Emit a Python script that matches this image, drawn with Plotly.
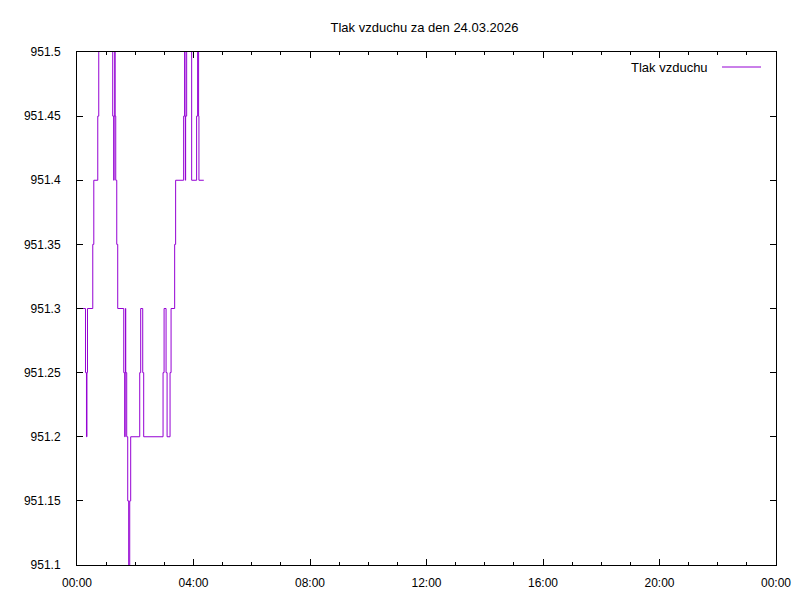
import plotly.graph_objects as go
import pandas as pd

# Minutes after midnight of each reading, and pressure (hPa)
minutes = [0.0, 17.5, 19.5, 20.5, 21.6, 32.5, 34.6, 42.8, 44.8, 73.6, 75.7, 76.3,
           77.8, 78.4, 79.8, 81.9, 83.9, 96.3, 98.3, 99.2, 99.8, 100.4, 102.4,
           104.5, 106.5, 108.6, 110.6, 129.2, 131.2, 135.4, 137.4, 177.3, 179.4,
           183.5, 185.6, 191.7, 193.8, 201.2, 203.2, 219.7, 221.8, 222.4, 223.2,
           223.8, 225.9, 236.2, 246.4, 248.5, 250.5, 251.2, 261.2]
pressure = [951.3, 951.25, 951.2, 951.25, 951.3, 951.35, 951.4, 951.45, 951.55,
            951.45, 951.4, 951.45, 951.55, 951.45, 951.4, 951.35, 951.3, 951.25,
            951.2, 951.25, 951.3, 951.25, 951.2, 951.15, 951.05, 951.15, 951.2,
            951.25, 951.3, 951.25, 951.2, 951.25, 951.3, 951.25, 951.2, 951.25,
            951.3, 951.35, 951.4, 951.45, 951.55, 951.45, 951.4, 951.45, 951.55,
            951.4, 951.45, 951.55, 951.45, 951.4, 951.4]

y_tick_vals = [951.1, 951.15, 951.2, 951.25, 951.3, 951.35, 951.4, 951.45, 951.5]
y_tick_text = ["951.1", "951.15", "951.2", "951.25", "951.3", "951.35", "951.4", "951.45", "951.5"]

day = pd.Timestamp("2026-03-24 00:00:00")
times = [day + pd.Timedelta(minutes=m) for m in minutes]

color = "#9400D3"
font = "Liberation Sans, Arial, sans-serif"

L, T, PW, PH = 69, 44, 699, 513

fig = go.Figure()
fig.add_trace(go.Scatter(x=times, y=pressure, mode="lines", line_shape="hv",
                         line=dict(color=color, width=1), name="Tlak vzduchu",
                         showlegend=False))

fig.update_layout(
    width=800, height=600,
    paper_bgcolor="white", plot_bgcolor="white",
    margin=dict(l=L, r=800 - L - PW, t=T, b=600 - T - PH),
    font=dict(family=font, size=12, color="black"),
    title=dict(text="Tlak vzduchu za den 24.03.2026", x=416.5 / 800, xanchor="center",
               y=1 - 19.5 / 600, yanchor="middle", font=dict(size=13)),
)
fig.update_xaxes(
    range=[day, day + pd.Timedelta(hours=24)],
    type="date", tickformat="%H:%M", dtick=4 * 3600000, tick0=day,
    ticks="inside", ticklen=6, tickcolor="black", tickwidth=1,
    minor=dict(ticks="inside", ticklen=3, dtick=3600000, tickcolor="black"),
    showline=True, linecolor="black", linewidth=1, mirror="ticks",
    showgrid=False, zeroline=False, ticklabelstandoff=7,
)
fig.update_yaxes(
    range=[951.1, 951.5], tickvals=y_tick_vals, ticktext=y_tick_text,
    ticks="inside", ticklen=6, tickcolor="black", tickwidth=1,
    showline=True, linecolor="black", linewidth=1, mirror="ticks",
    showgrid=False, zeroline=False, ticklabelstandoff=13,
)

# legend drawn gnuplot-style: text on the left, sample line on the right
ly = (T + PH - 59) / PH
fig.add_annotation(xref="paper", yref="paper", x=(702 - L) / PW, y=ly,
                   text="Tlak vzduchu", showarrow=False, xanchor="right", yanchor="middle",
                   font=dict(size=13))
fig.add_shape(type="line", xref="paper", yref="paper",
              x0=(714 - L) / PW, x1=(753 - L) / PW, y0=ly, y1=ly,
              line=dict(color=color, width=1))

fig.write_html("out.html")
